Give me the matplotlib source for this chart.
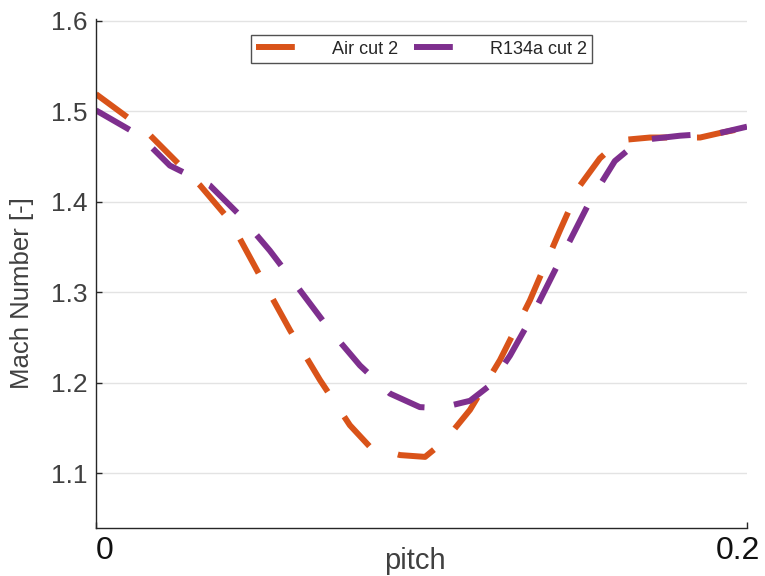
import matplotlib
matplotlib.use("Agg")
import matplotlib.pyplot as plt
from matplotlib.transforms import ScaledTranslation

plt.rcParams['font.family'] = ['Liberation Sans', 'DejaVu Sans']

# Mach number along the pitch at cut 2
air_pitch = [0.0, 0.0151, 0.0320, 0.0412, 0.0504, 0.0596, 0.0688, 0.0780, 0.0842,
             0.0934, 0.1011, 0.1072, 0.1149, 0.1241, 0.1333, 0.1425, 0.1487,
             0.1548, 0.1610, 0.1702, 0.1856, 0.1917, 0.2]
air_mach = [1.519, 1.479, 1.418, 1.379, 1.318, 1.258, 1.203, 1.153, 1.129,
            1.120, 1.118, 1.136, 1.170, 1.225, 1.291, 1.368, 1.418,
            1.448, 1.468, 1.471, 1.471, 1.476, 1.482]

r134a_pitch = [0.0, 0.0135, 0.0227, 0.0350, 0.0442, 0.0534, 0.0627, 0.0719,
               0.0811, 0.0903, 0.0995, 0.1057, 0.1149, 0.1210, 0.1272, 0.1333,
               0.1425, 0.1518, 0.1594, 0.1671, 0.1794, 0.1917, 0.2]
r134a_mach = [1.501, 1.473, 1.440, 1.418, 1.385, 1.346, 1.302, 1.258,
              1.219, 1.188, 1.173, 1.172, 1.180, 1.197, 1.230, 1.269,
              1.335, 1.401, 1.445, 1.468, 1.473, 1.476, 1.483]

series_labels = ['Air cut 2', 'R134a cut 2']
x_ticks = [0, 0.2]
y_ticks = [1.1, 1.2, 1.3, 1.4, 1.5, 1.6]

text_color = '#262626'
label_color = '#404040'

fig = plt.figure(figsize=(7.65, 5.76), dpi=100)
ax = fig.add_axes([96 / 765, 1 - 528 / 576, (747 - 96) / 765, (528 - 19) / 576])

dash = (6.5, 5.0)
ax.plot(air_pitch, air_mach, color='#D95319', lw=4.3, dashes=dash,
        solid_capstyle='butt', dash_capstyle='butt', label=series_labels[0])
ax.plot(r134a_pitch, r134a_mach, color='#7E2F8E', lw=4.3, dashes=dash,
        solid_capstyle='butt', dash_capstyle='butt', label=series_labels[1])

ax.set_xlim(0, 0.2)
ax.set_ylim(1.0394, 1.602)
ax.set_xticks(x_ticks)
ax.set_xticklabels(['0', '0.2'])
ax.set_yticks(y_ticks)
ax.set_yticklabels([f'{v:.1f}' for v in y_ticks])

ax.grid(axis='y', color='#e3e3e3', lw=1.0)
ax.set_axisbelow(True)
for side in ('top', 'right'):
    ax.spines[side].set_visible(False)
for side in ('left', 'bottom'):
    ax.spines[side].set_color(text_color)
    ax.spines[side].set_linewidth(1.0)

ax.tick_params(axis='both', direction='in', length=4, width=1.0,
               colors=text_color)
ax.tick_params(axis='y', pad=6, labelcolor=label_color, labelsize=19)
ax.tick_params(axis='x', pad=6, labelcolor='#111111', labelsize=23)

# nudge the end labels of the pitch axis inward
for lbl, dx in zip(ax.get_xticklabels(), (9, -9.5)):
    lbl.set_transform(lbl.get_transform() + ScaledTranslation(dx / 100, 0, fig.dpi_scale_trans))

ax.set_xlabel('pitch', fontsize=21, color=label_color)
ax.xaxis.set_label_coords(0.49, -0.038)
ax.set_ylabel('Mach Number [-]', fontsize=18.5, color=label_color)
ax.yaxis.set_label_coords(-0.095, 0.462)

leg = ax.legend(loc='upper center', bbox_to_anchor=(0.5, 0.986), ncol=2,
                fontsize=13, frameon=True, fancybox=False, handlelength=3.4,
                columnspacing=0.9, handletextpad=0.8, borderpad=0.3,
                labelspacing=0.2)
leg.get_frame().set_edgecolor(text_color)
leg.get_frame().set_linewidth(1.0)
for t in leg.get_texts():
    t.set_color(text_color)

fig.savefig('out.png', dpi=100, facecolor='white')
